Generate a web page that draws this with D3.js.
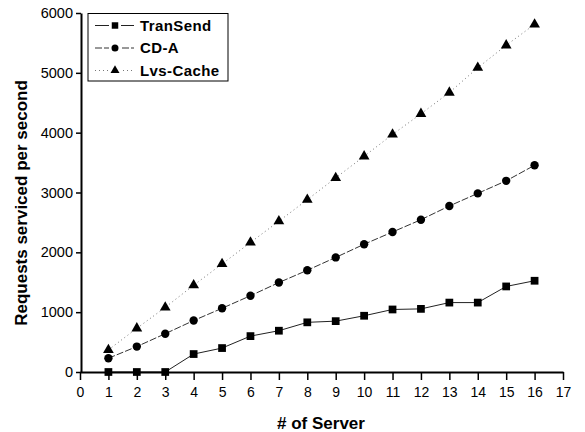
<!DOCTYPE html>
<html><head><meta charset="utf-8">
<script src="https://cdn.jsdelivr.net/npm/d3@7"></script>
<style>body{margin:0;background:#fff}svg{display:block}</style>
</head><body>
<script>
const servers = [1,2,3,4,5,6,7,8,9,10,11,12,13,14,15,16];
const tranSend = [0,0,0,300,400,600,690,830,850,940,1045,1055,1160,1160,1430,1525];
const cdA = [230,425,640,860,1065,1275,1495,1700,1915,2135,2340,2545,2775,2985,3195,3455];
const lvsCache = [370,730,1080,1450,1805,2165,2520,2880,3245,3605,3970,4315,4670,5085,5460,5810];
const xTicks = d3.range(0,18);
const yTicks = [0,1000,2000,3000,4000,5000,6000];
const seriesNames = ["TranSend","CD-A","Lvs-Cache"];

const W=585,H=432;
const svg=d3.select("body").append("svg").attr("width",W).attr("height",H);
const x=d3.scaleLinear().domain([0,17]).range([80,563]);
const y=d3.scaleLinear().domain([0,6000]).range([372,13]);
const font="Arial, 'Liberation Sans', sans-serif";

const series=[
 {name:seriesNames[0],vals:tranSend,marker:"square",dash:null,color:"#222",w:1},
 {name:seriesNames[1],vals:cdA,marker:"circle",dash:"7,2",color:"#333",w:1},
 {name:seriesNames[2],vals:lvsCache,marker:"triangle",dash:"1,3",color:"#777",w:1}
];
const sym={square:d3.symbolSquare,circle:d3.symbolCircle,triangle:d3.symbolTriangle};
const size={square:60,circle:55,triangle:50};

// lines
const line=d3.line().x((d,i)=>x(servers[i])).y(d=>y(d));
series.forEach(s=>{
  svg.append("path").datum(s.vals).attr("d",line).attr("fill","none")
   .attr("stroke",s.color).attr("stroke-width",s.w).attr("stroke-dasharray",s.dash);
  svg.append("g").selectAll("path").data(s.vals).join("path")
   .attr("d",d3.symbol().type(sym[s.marker]).size(size[s.marker]))
   .attr("transform",(d,i)=>`translate(${x(servers[i])},${y(d)})`)
   .attr("fill","#000");
});

// axes
const xAxis=svg.append("g").attr("transform","translate(0,372)")
  .call(d3.axisBottom(x).tickValues(xTicks).tickFormat(d3.format("d")).tickSize(8).tickSizeOuter(0));
const yAxis=svg.append("g").attr("transform","translate(81,0)")
  .call(d3.axisLeft(y).tickValues(yTicks).tickFormat(d3.format("d")).tickSize(5).tickSizeOuter(0));
[xAxis,yAxis].forEach(a=>{
  a.select(".domain").attr("stroke","#000").attr("stroke-width",2);
  a.selectAll(".tick line").attr("stroke","#000").attr("stroke-width",1.5);
  a.selectAll("text").attr("font-family",font).attr("font-size",14).attr("fill","#000");
});
xAxis.selectAll("text").attr("dy","1em");
yAxis.selectAll("text").attr("font-size",14.5);

// axis labels
svg.append("text").attr("x",321).attr("y",429).attr("text-anchor","middle")
 .attr("font-family",font).attr("font-weight","bold").attr("font-size",17).text("# of Server");
svg.append("text").attr("transform","translate(27,203) rotate(-90)").attr("text-anchor","middle")
 .attr("font-family",font).attr("font-weight","bold").attr("font-size",17).text("Requests serviced per second");

// legend
const lg=svg.append("g");
lg.append("rect").attr("x",88).attr("y",13.5).attr("width",140).attr("height",67.5)
 .attr("fill","#fff").attr("stroke","#000").attr("stroke-width",1);
series.forEach((s,i)=>{
  const cy=25.5+i*22.5;
  lg.append("line").attr("x1",95).attr("x2",134).attr("y1",cy).attr("y2",cy)
   .attr("stroke",s.color).attr("stroke-width",1).attr("stroke-dasharray",s.dash);
  lg.append("rect").attr("x",109).attr("y",cy-3).attr("width",12).attr("height",6).attr("fill","#fff");
  lg.append("path").attr("d",d3.symbol().type(sym[s.marker]).size(size[s.marker]*0.7)())
   .attr("transform",`translate(115,${cy})`).attr("fill","#000");
  lg.append("text").attr("x",140).attr("y",cy).attr("dy","0.36em")
   .attr("font-family",font).attr("font-weight","bold").attr("font-size",15)
   .attr("letter-spacing",0.4).text(s.name);
});
</script>
</body></html>
